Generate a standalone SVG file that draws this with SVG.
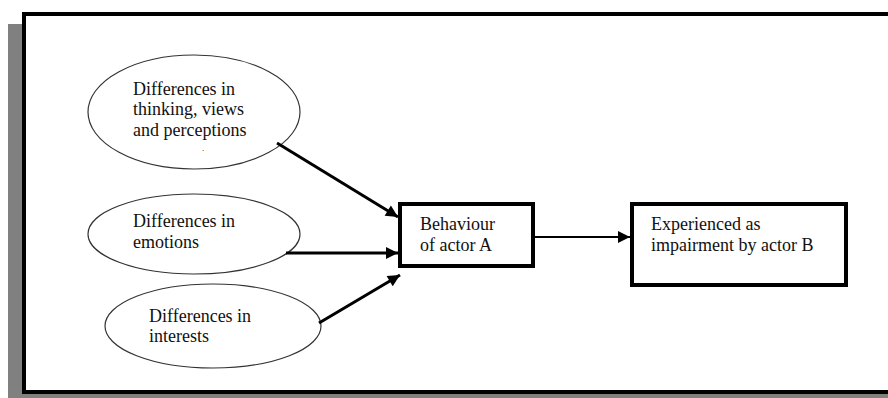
<svg xmlns="http://www.w3.org/2000/svg" width="888" height="398" viewBox="0 0 888 398">
<style>
.t{font-family:"Liberation Serif","Times New Roman",serif;font-size:18px;fill:#111}
.el{fill:#fff;stroke:#333;stroke-width:1.2}
.bx{fill:#fff;stroke:#000;stroke-width:4}
.cn{stroke:#000;stroke-width:3;fill:none}
</style>
<defs>
<marker id="ah" viewBox="0 0 10 10" refX="10" refY="5" markerWidth="4.5" markerHeight="4" orient="auto" markerUnits="strokeWidth">
<path d="M0,0 L10,5 L0,10 Z" fill="#000"/>
</marker>
<marker id="ah2" viewBox="0 0 10 10" refX="10" refY="5" markerWidth="6.5" markerHeight="6" orient="auto" markerUnits="strokeWidth">
<path d="M0,0 L10,5 L0,10 Z" fill="#000"/>
</marker>
</defs>
<rect x="8" y="24" width="900" height="390" fill="#808080"/>
<rect x="24" y="14" width="880" height="378" fill="#fff" stroke="#000" stroke-width="4"/>
<g id="n1">
<ellipse class="el" cx="194" cy="112" rx="106" ry="57"/>
<text class="t" x="133" y="95">Differences in</text>
<text class="t" x="133" y="115">thinking, views</text>
<text class="t" x="133" y="136">and perceptions</text>
<text class="t" x="202" y="151" style="font-size:9px">.</text>
</g>
<g id="n2">
<ellipse class="el" cx="194" cy="234" rx="106" ry="40"/>
<text class="t" x="133" y="227">Differences in</text>
<text class="t" x="133" y="248">emotions</text>
</g>
<g id="n3">
<ellipse class="el" cx="213" cy="326" rx="108" ry="42"/>
<text class="t" x="149" y="322">Differences in</text>
<text class="t" x="149" y="342">interests</text>
</g>
<g id="nA">
<rect class="bx" x="400" y="204" width="133" height="62"/>
<text class="t" x="420" y="230">Behaviour</text>
<text class="t" x="420" y="251">of actor A</text>
</g>
<g id="nB">
<rect class="bx" x="632" y="204" width="214" height="81"/>
<text class="t" x="651" y="230">Experienced as</text>
<text class="t" x="651" y="251">impairment by actor B</text>
</g>
<g id="connectors">
<line class="cn" x1="277" y1="143" x2="398" y2="217" marker-end="url(#ah)"/>
<line class="cn" x1="286" y1="253" x2="398" y2="253" marker-end="url(#ah)"/>
<line class="cn" x1="319" y1="323" x2="400" y2="275" marker-end="url(#ah)"/>
<line class="cn" x1="535" y1="237" x2="630" y2="237" style="stroke-width:2" marker-end="url(#ah2)"/>
</g>
</svg>
